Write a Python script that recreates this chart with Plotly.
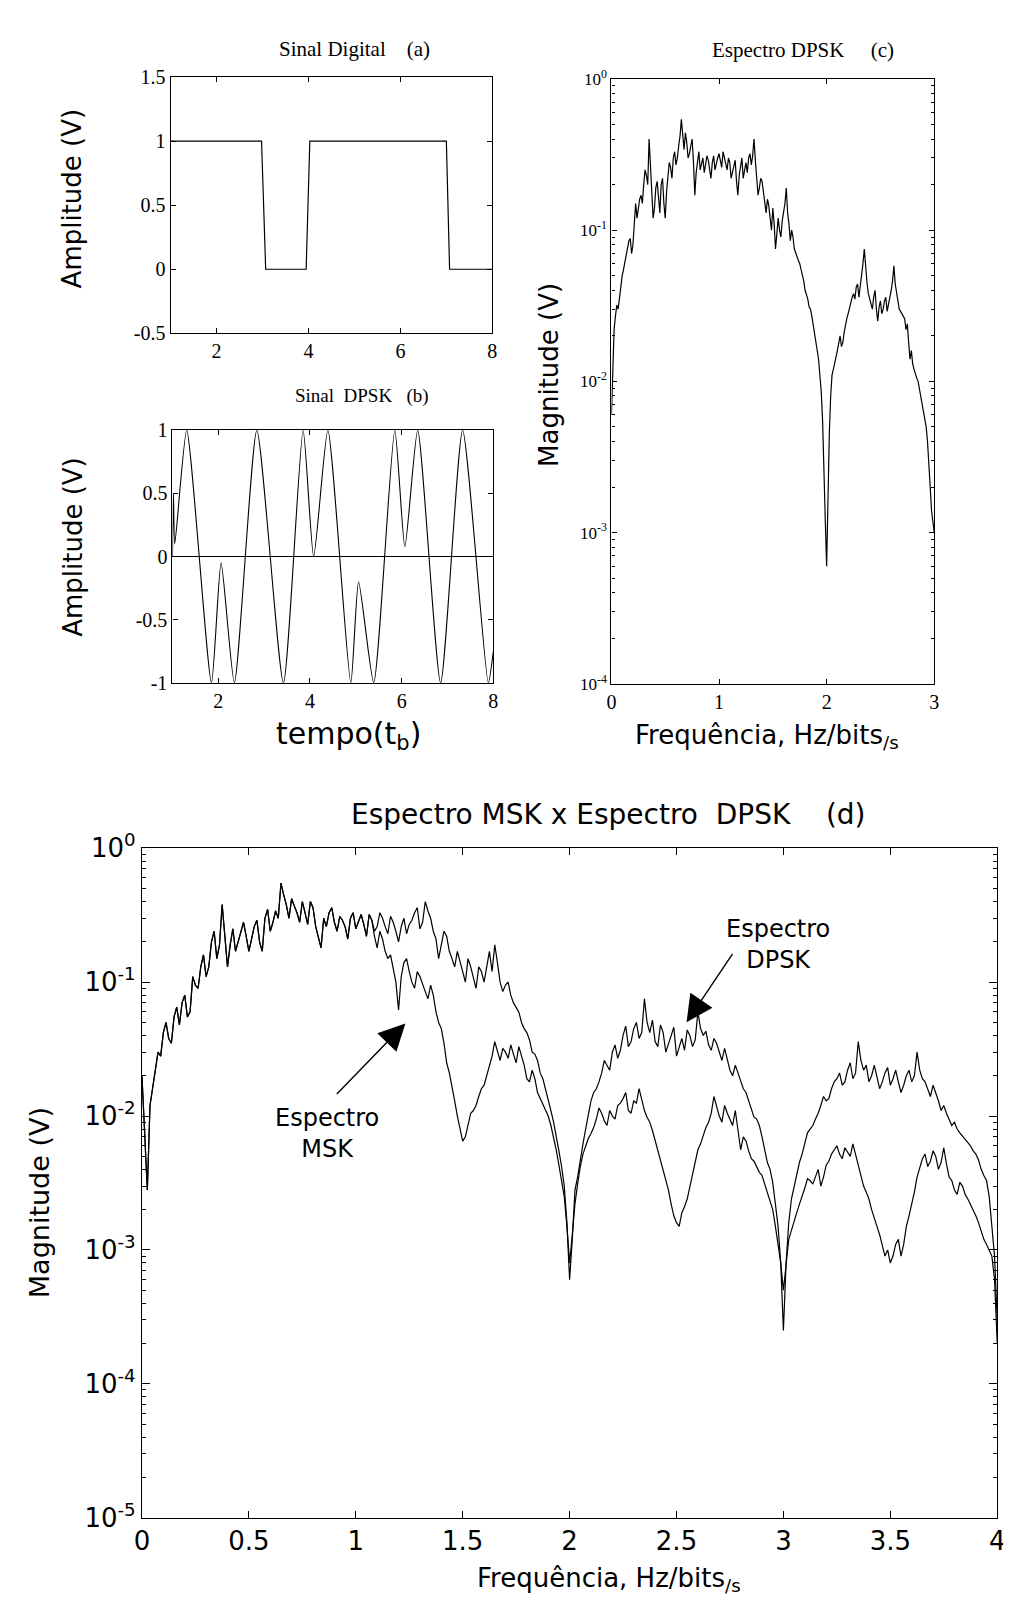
import plotly.graph_objects as go

# ---------------- data ----------------
# (a) digital signal
t_digital = [1.0, 2.98, 3.07, 3.95, 4.03, 7.0, 7.07, 8.0]
v_digital = [1, 1, 0, 0, 1, 1, 0, 0]

# (b) DPSK signal (vertices)
t_dpsk = [1.0, 1.02, 1.05, 1.31, 1.85, 2.06, 2.35, 2.84, 3.42, 3.85, 4.08, 4.39,
          4.89, 5.06, 5.39, 5.85, 6.07, 6.35, 6.85, 7.33, 7.89, 8.0]
v_dpsk = [0.0, 0.5, 0.1, 1.0, -1.0, -0.05, -1.0, 1.0, -1.0, 1.0, 0.0, 1.0,
          -1.0, -0.2, -1.0, 1.0, 0.08, 1.0, -1.0, 1.0, -1.0, -0.75]

# spectra sampling step (Hz/bits/s); "mid" lists are the samples half a step later
STEP = 0.025

# (c) DPSK spectrum, f = 0 .. 3
dpsk_c = [0.006, 0.022, 0.032, 0.036, 0.050, 0.062, 0.075, 0.088, 0.080, 0.15,
          0.14, 0.17, 0.20, 0.23, 0.40, 0.18, 0.14, 0.21, 0.13, 0.22,
          0.12, 0.23, 0.26, 0.30, 0.27, 0.36, 0.54, 0.34, 0.38, 0.32,
          0.40, 0.17, 0.29, 0.25, 0.30, 0.27, 0.29, 0.22, 0.31, 0.28,
          0.32, 0.26, 0.30, 0.25, 0.28, 0.24, 0.29, 0.17, 0.27, 0.22,
          0.28, 0.30, 0.27, 0.40, 0.22, 0.19, 0.21, 0.15, 0.16, 0.12,
          0.14, 0.075, 0.12, 0.09, 0.13, 0.19, 0.11, 0.10, 0.075, 0.065,
          0.060, 0.050, 0.040, 0.035, 0.030, 0.024, 0.019, 0.014, 0.0085, 0.0030,
          0.0006, 0.0045, 0.011, 0.013, 0.016, 0.020, 0.018, 0.024, 0.028, 0.034,
          0.038, 0.042, 0.036, 0.050, 0.075, 0.045, 0.035, 0.030, 0.040, 0.025,
          0.034, 0.030, 0.036, 0.032, 0.040, 0.058, 0.038, 0.030, 0.028, 0.026,
          0.024, 0.014, 0.013, 0.011, 0.010, 0.0080, 0.0065, 0.0050, 0.0030, 0.0014,
          0.0010]
dpsk_c_mid = [0.012, 0.027, 0.030, 0.043, 0.055, 0.068, 0.085, 0.070, 0.11, 0.12,
              0.16, 0.15, 0.25, 0.20, 0.28, 0.12, 0.19, 0.16, 0.20, 0.15,
              0.18, 0.28, 0.22, 0.33, 0.30, 0.42, 0.40, 0.44, 0.30, 0.36,
              0.28, 0.24, 0.33, 0.28, 0.24, 0.31, 0.26, 0.28, 0.25, 0.30,
              0.29, 0.33, 0.27, 0.30, 0.22, 0.26, 0.21, 0.23, 0.30, 0.26,
              0.24, 0.32, 0.31, 0.29, 0.17, 0.22, 0.18, 0.13, 0.145, 0.10,
              0.11, 0.10, 0.10, 0.115, 0.15, 0.13, 0.085, 0.09, 0.07, 0.063,
              0.055, 0.046, 0.038, 0.031, 0.027, 0.021, 0.016, 0.011, 0.0055, 0.0012,
              0.0020, 0.0080, 0.012, 0.0145, 0.018, 0.017, 0.021, 0.026, 0.031, 0.036,
              0.035, 0.044, 0.042, 0.060, 0.055, 0.038, 0.032, 0.036, 0.030, 0.031,
              0.028, 0.034, 0.029, 0.036, 0.046, 0.044, 0.033, 0.029, 0.027, 0.022,
              0.018, 0.016, 0.012, 0.0105, 0.009, 0.0072, 0.0058, 0.0040, 0.0020, 0.0012]

# (d) DPSK spectrum, f = 0 .. 4
dpsk_d = [0.020, 0.0028, 0.017, 0.030, 0.042, 0.038, 0.055, 0.048, 0.080, 0.060,
          0.095, 0.13, 0.11, 0.20, 0.15, 0.38, 0.13, 0.25, 0.20, 0.28,
          0.17, 0.26, 0.20, 0.30, 0.24, 0.34, 0.55, 0.38, 0.42, 0.33,
          0.40, 0.27, 0.36, 0.22, 0.30, 0.33, 0.28, 0.31, 0.26, 0.30,
          0.25, 0.32, 0.22, 0.29, 0.26, 0.30, 0.23, 0.28, 0.20, 0.30,
          0.27, 0.33, 0.25, 0.40, 0.30, 0.21, 0.19, 0.22, 0.15, 0.17,
          0.12, 0.15, 0.11, 0.13, 0.10, 0.17, 0.19, 0.10, 0.095, 0.080,
          0.065, 0.050, 0.042, 0.030, 0.026, 0.019, 0.013, 0.009, 0.0055, 0.0030,
          0.0006, 0.0028, 0.0045, 0.008, 0.013, 0.016, 0.021, 0.024, 0.030, 0.027,
          0.040, 0.033, 0.045, 0.038, 0.075, 0.042, 0.036, 0.048, 0.030, 0.040,
          0.028, 0.038, 0.044, 0.033, 0.060, 0.040, 0.034, 0.038, 0.030, 0.032,
          0.022, 0.024, 0.018, 0.015, 0.011, 0.0095, 0.007, 0.0045, 0.0032, 0.0015,
          0.00025, 0.0016, 0.003, 0.0045, 0.0063, 0.008, 0.0095, 0.012, 0.013, 0.016,
          0.019, 0.017, 0.022, 0.019, 0.036, 0.022, 0.018, 0.024, 0.016, 0.021,
          0.017, 0.022, 0.015, 0.020, 0.018, 0.030, 0.019, 0.016, 0.017, 0.013,
          0.012, 0.0095, 0.009, 0.0075, 0.0068, 0.006, 0.0052, 0.004, 0.0033, 0.0015,
          0.0003]
dpsk_d_mid = [0.008, 0.012, 0.022, 0.028, 0.05, 0.035, 0.065, 0.07, 0.055, 0.11,
              0.09, 0.16, 0.13, 0.24, 0.19, 0.22, 0.19, 0.17, 0.24, 0.22,
              0.21, 0.29, 0.17, 0.35, 0.28, 0.30, 0.45, 0.30, 0.37, 0.28,
              0.33, 0.40, 0.26, 0.18, 0.26, 0.36, 0.24, 0.29, 0.21, 0.33,
              0.28, 0.27, 0.32, 0.24, 0.33, 0.26, 0.31, 0.24, 0.26, 0.23,
              0.29, 0.36, 0.28, 0.34, 0.24, 0.15, 0.24, 0.17, 0.13, 0.145,
              0.10, 0.13, 0.09, 0.12, 0.13, 0.12, 0.14, 0.085, 0.10, 0.07,
              0.060, 0.045, 0.037, 0.029, 0.021, 0.016, 0.011, 0.0072, 0.0042, 0.0016,
              0.0012, 0.0035, 0.0062, 0.010, 0.015, 0.018, 0.026, 0.022, 0.034, 0.031,
              0.047, 0.036, 0.05, 0.042, 0.05, 0.052, 0.033, 0.042, 0.035, 0.046,
              0.033, 0.031, 0.04, 0.037, 0.045, 0.043, 0.031, 0.035, 0.026, 0.027,
              0.020, 0.021, 0.016, 0.013, 0.0098, 0.0085, 0.0055, 0.0040, 0.0022, 0.0008,
              0.0008, 0.0024, 0.0036, 0.0052, 0.0075, 0.0085, 0.0105, 0.014, 0.0135, 0.018,
              0.021, 0.018, 0.025, 0.021, 0.026, 0.024, 0.020, 0.019, 0.018, 0.023,
              0.019, 0.018, 0.017, 0.022, 0.020, 0.022, 0.018, 0.014, 0.015, 0.011,
              0.0105, 0.0085, 0.0080, 0.0071, 0.0064, 0.0055, 0.0047, 0.0036, 0.0025, 0.0009]

# (d) MSK spectrum: same as DPSK below ~1.1, then its own lobes
msk_d = dpsk_d[:44] + [
          0.18, 0.21, 0.15, 0.13, 0.062, 0.14, 0.12, 0.09, 0.11, 0.085,
          0.095, 0.06, 0.045, 0.025, 0.017, 0.010, 0.0065, 0.0085, 0.011, 0.014,
          0.017, 0.024, 0.036, 0.026, 0.030, 0.034, 0.025, 0.028, 0.019, 0.022,
          0.015, 0.012, 0.010, 0.007, 0.0043, 0.0025, 0.0008, 0.0022, 0.0042, 0.0060,
          0.0074, 0.0095, 0.0105, 0.0085, 0.010, 0.012, 0.0135, 0.011, 0.013, 0.016,
          0.011, 0.009, 0.0066, 0.0048, 0.0034, 0.0022, 0.0016, 0.0019, 0.0024, 0.0038,
          0.0056, 0.0072, 0.0090, 0.014, 0.010, 0.012, 0.0095, 0.011, 0.0056, 0.0065,
          0.0048, 0.0042, 0.0036, 0.0026, 0.0020, 0.0011, 0.0005, 0.0012, 0.0016, 0.0022,
          0.0029, 0.0033, 0.0036, 0.0030, 0.0043, 0.0052, 0.0060, 0.0048, 0.0054, 0.0062,
          0.0042, 0.0030, 0.0024, 0.0017, 0.0013, 0.0009, 0.0008, 0.0011, 0.0009, 0.0015,
          0.0022, 0.0035, 0.0048, 0.0042, 0.0055, 0.0040, 0.0058, 0.0035, 0.0028, 0.0032,
          0.0026, 0.0022, 0.0018, 0.0014, 0.0011, 0.0009, 0.0002]
msk_d_mid = dpsk_d_mid[:43] + [
          0.22, 0.24, 0.17, 0.16, 0.10, 0.11, 0.15, 0.10, 0.12, 0.095,
          0.075, 0.08, 0.05, 0.035, 0.021, 0.013, 0.0080, 0.0070, 0.0105, 0.012,
          0.016, 0.020, 0.028, 0.031, 0.032, 0.027, 0.029, 0.033, 0.024, 0.018,
          0.019, 0.0135, 0.011, 0.0085, 0.0056, 0.0033, 0.0015, 0.0013, 0.0031, 0.0052,
          0.0068, 0.0082, 0.0115, 0.0092, 0.0110, 0.0095, 0.0125, 0.015, 0.0105, 0.0125,
          0.0135, 0.0098, 0.0078, 0.0057, 0.0040, 0.0028, 0.0018, 0.0015, 0.0021, 0.0030,
          0.0046, 0.0062, 0.0082, 0.0105, 0.0120, 0.0090, 0.0105, 0.0085, 0.0078, 0.0070,
          0.0055, 0.0046, 0.0038, 0.0031, 0.0023, 0.0015, 0.0008, 0.0008, 0.0014, 0.0019,
          0.0025, 0.0034, 0.0031, 0.0040, 0.0035, 0.0046, 0.0056, 0.0052, 0.0058, 0.0050,
          0.0052, 0.0036, 0.0027, 0.0020, 0.0015, 0.0011, 0.0010, 0.0009, 0.0012, 0.0011,
          0.0018, 0.0027, 0.0041, 0.0052, 0.0046, 0.0050, 0.0045, 0.0044, 0.0033, 0.0026,
          0.0030, 0.0024, 0.0020, 0.0016, 0.0012, 0.0010, 0.0006]


def interleave(main, mid):
    out = []
    for i, v in enumerate(main):
        out.append(v)
        if i < len(mid):
            out.append(mid[i])
    return out


c_vals = interleave(dpsk_c, dpsk_c_mid)
d_vals = interleave(dpsk_d, dpsk_d_mid)
m_vals = interleave(msk_d, msk_d_mid)
f_c = [round(k * STEP / 2, 5) for k in range(len(c_vals))]
f_d = [round(k * STEP / 2, 5) for k in range(len(d_vals))]

lin_ticks = ["-0.5", "0", "0.5", "1", "1.5"]
log_c_ticks = [1e-4, 1e-3, 1e-2, 1e-1, 1]
log_c_text = ["10<sup>-4</sup>", "10<sup>-3</sup>", "10<sup>-2</sup>", "10<sup>-1</sup>", "10<sup>0</sup>"]
log_d_ticks = [1e-5, 1e-4, 1e-3, 1e-2, 1e-1, 1]
log_d_text = ["10<sup>-5</sup>", "10<sup>-4</sup>", "10<sup>-3</sup>", "10<sup>-2</sup>", "10<sup>-1</sup>", "10<sup>0</sup>"]

# ---------------- figure ----------------
W, H = 1011, 1607
SERIF = "Liberation Serif"
SANS = "DejaVu Sans"
LINE = dict(color="black", width=1.2)

fig = go.Figure()
fig.add_trace(go.Scatter(x=t_digital, y=v_digital, mode="lines", line=LINE, xaxis="x", yaxis="y"))
fig.add_trace(go.Scatter(x=t_dpsk, y=v_dpsk, mode="lines",
                         line=dict(color="black", width=1.1, shape="spline", smoothing=0.6),
                         xaxis="x2", yaxis="y2"))
fig.add_trace(go.Scatter(x=f_c, y=c_vals, mode="lines", line=LINE, xaxis="x3", yaxis="y3"))
fig.add_trace(go.Scatter(x=f_d, y=d_vals, mode="lines", line=LINE, xaxis="x4", yaxis="y4"))
fig.add_trace(go.Scatter(x=f_d, y=m_vals, mode="lines", line=LINE, xaxis="x4", yaxis="y4"))


def px(x):
    return x / W


def py(y):
    return 1 - y / H


def base_axis(**kw):
    d = dict(showline=True, linecolor="black", linewidth=1.2, mirror="ticks", ticks="inside",
             ticklen=5, tickcolor="black", showgrid=False, zeroline=False)
    d.update(kw)
    return d


minor_c = [k * 10.0 ** e for e in range(-4, 0) for k in range(2, 10)]
minor_d = [k * 10.0 ** e for e in range(-5, 0) for k in range(2, 10)]

fig.update_layout(
    width=W, height=H, margin=dict(l=0, r=0, t=0, b=0),
    paper_bgcolor="white", plot_bgcolor="white", showlegend=False,
    xaxis=base_axis(domain=[px(157), px(484)], anchor="y", range=[1, 8], tickvals=[2, 4, 6, 8],
                    tickfont=dict(family=SERIF, size=20, color="black")),
    yaxis=base_axis(domain=[py(313), py(51)], anchor="x", range=[-0.5, 1.5],
                    tickvals=[-0.5, 0, 0.5, 1, 1.5], ticktext=lin_ticks,
                    tickfont=dict(family=SERIF, size=20, color="black")),
    xaxis2=base_axis(domain=[px(159), px(485)], anchor="y2", range=[1, 8], tickvals=[2, 4, 6, 8],
                     tickfont=dict(family=SERIF, size=20, color="black")),
    yaxis2=base_axis(domain=[py(670), py(412)], anchor="x2", range=[-1, 1],
                     tickvals=[-1, -0.5, 0, 0.5, 1], ticktext=["-1", "-0.5", "0", "0.5", "1"],
                     zeroline=True, zerolinecolor="black", zerolinewidth=1.1,
                     tickfont=dict(family=SERIF, size=20, color="black")),
    xaxis3=base_axis(domain=[px(605), px(933)], anchor="y3", range=[0, 3], tickvals=[0, 1, 2, 3],
                     tickfont=dict(family=SERIF, size=20, color="black")),
    yaxis3=base_axis(domain=[py(671), py(53)], anchor="x3", type="log", range=[-4, 0],
                     tickvals=log_c_ticks, ticktext=log_c_text,
                     minor=dict(tickmode="array", tickvals=minor_c, ticks="inside", ticklen=3, tickcolor="black"),
                     tickfont=dict(family=SERIF, size=17, color="black")),
    xaxis4=base_axis(domain=[px(128), px(997)], anchor="y4", range=[0, 4],
                     tickvals=[0, 0.5, 1, 1.5, 2, 2.5, 3, 3.5, 4],
                     ticktext=["0", "0.5", "1", "1.5", "2", "2.5", "3", "3.5", "4"],
                     ticklen=7, tickfont=dict(family=SANS, size=26, color="black")),
    yaxis4=base_axis(domain=[py(1523), py(839)], anchor="x4", type="log", range=[-5, 0],
                     tickvals=log_d_ticks, ticktext=log_d_text, ticklen=8,
                     minor=dict(tickmode="array", tickvals=minor_d, ticks="inside", ticklen=4, tickcolor="black"),
                     tickfont=dict(family=SANS, size=26, color="black")),
)

ann = []


def text_ann(txt, x, y, size, family=SANS, angle=0):
    ann.append(dict(text=txt, x=px(x), y=py(y), xref="paper", yref="paper", showarrow=False,
                    xanchor="center", yanchor="middle", textangle=angle,
                    font=dict(family=family, size=size, color="black")))


NB = "\u00a0"
text_ann("Sinal Digital" + NB * 4 + "(a)", 344, 22, 21, SERIF)
text_ann("Sinal" + NB * 2 + "DPSK" + NB * 3 + "(b)", 352, 377, 19, SERIF)
text_ann("Espectro DPSK" + NB * 5 + "(c)", 800, 23, 21, SERIF)
text_ann("Espectro MSK x Espectro" + NB * 2 + "DPSK" + NB * 4 + "(d)", 602, 805, 28)

text_ann("Amplitude (V)", 57, 175, 26, angle=-90)
text_ann("Amplitude (V)", 58, 531, 26, angle=-90)
text_ann("Magnitude (V)", 542, 355, 26, angle=-90)
text_ann("Magnitude (V)", 24, 1201, 27, angle=-90)
text_ann("tempo(t<sub>b</sub>)", 338, 724, 30)
text_ann("Frequência, Hz/bits<sub>/s</sub>", 763, 725, 26)
text_ann("Frequência, Hz/bits<sub>/s</sub>", 603, 1586, 26)

# annotation texts and arrows inside panel (d)
ann.append(dict(text="Espectro<br>DPSK", x=2.976, y=-0.716, xref="x4", yref="y4", showarrow=False,
                font=dict(family=SANS, size=24, color="black")))
ann.append(dict(text="Espectro<br>MSK", x=0.867, y=-2.127, xref="x4", yref="y4", showarrow=False,
                font=dict(family=SANS, size=24, color="black")))
ann.append(dict(text="", x=2.547, y=-1.30, xref="x4", yref="y4", showarrow=True,
                ax=47, ay=-70, arrowhead=2, arrowsize=3.8, arrowwidth=1.4, arrowcolor="black"))
ann.append(dict(text="", x=1.232, y=-1.308, xref="x4", yref="y4", showarrow=True,
                ax=-70, ay=72, arrowhead=2, arrowsize=3.8, arrowwidth=1.4, arrowcolor="black"))

fig.update_layout(annotations=ann)
fig.write_html("out.html")
